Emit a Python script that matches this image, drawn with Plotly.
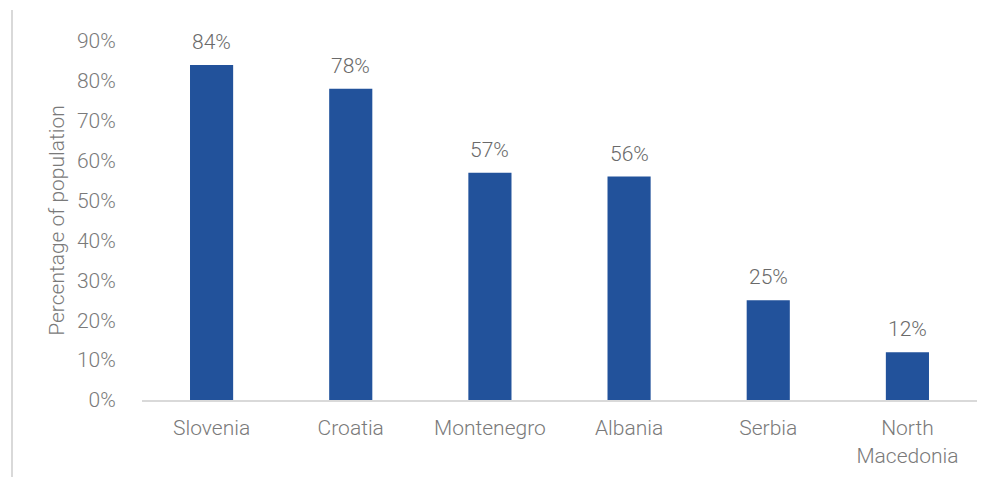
import plotly.graph_objects as go

countries = ["Slovenia", "Croatia", "Montenegro", "Albania", "Serbia", "North<br>Macedonia"]
share = [0.84, 0.78, 0.57, 0.56, 0.25, 0.12]
y_ticks = [0, 0.1, 0.2, 0.3, 0.4, 0.5, 0.6, 0.7, 0.8, 0.9]

W, H = 994, 477
ML, MR, MT, MB = 142, 17, 41, 77
FONT = "Roboto, Liberation Sans, Arial, sans-serif"
TXT = dict(family=FONT, size=21, color="#7a7a7a", weight=300)

fig = go.Figure(
    go.Bar(
        x=countries,
        y=share,
        marker=dict(color="#22529b", line=dict(width=0)),
        hoverinfo="skip",
    )
)

# value labels above each bar
for c, v in zip(countries, share):
    fig.add_annotation(
        x=c, y=v, text=f"{v:.0%}", showarrow=False,
        yanchor="bottom", yshift=9,
        font=dict(family=FONT, size=21, color="#6a6a6a", weight=300),
    )

fig.update_layout(
    width=W,
    height=H,
    margin=dict(l=ML, r=MR, t=MT, b=MB),
    paper_bgcolor="white",
    plot_bgcolor="white",
    bargap=0.69,
    showlegend=False,
    font=TXT,
)

fig.update_yaxes(
    range=[0, 0.9],
    tickvals=y_ticks,
    tickformat=".0%",
    showgrid=False,
    zeroline=False,
    showline=False,
    ticks="outside",
    ticklen=21,
    tickcolor="rgba(0,0,0,0)",
    tickfont=TXT,
    automargin=False,
    title=dict(text="Percentage of population", standoff=6, font=TXT),
)

fig.update_xaxes(
    showgrid=False,
    showline=True,
    linecolor="#d9d9d9",
    linewidth=2,
    ticks="outside",
    ticklen=8,
    tickcolor="rgba(0,0,0,0)",
    tickfont=TXT,
    automargin=False,
)

# thin frame line on the left edge
plot_w = W - ML - MR
plot_h = H - MT - MB
fig.add_shape(
    type="line",
    xref="paper", yref="paper",
    x0=(12 - ML) / plot_w, x1=(12 - ML) / plot_w,
    y0=(H - MB - 477) / plot_h, y1=(H - MB - 10) / plot_h,
    line=dict(color="#d9d9d9", width=2),
)

fig.write_html("out.html")
